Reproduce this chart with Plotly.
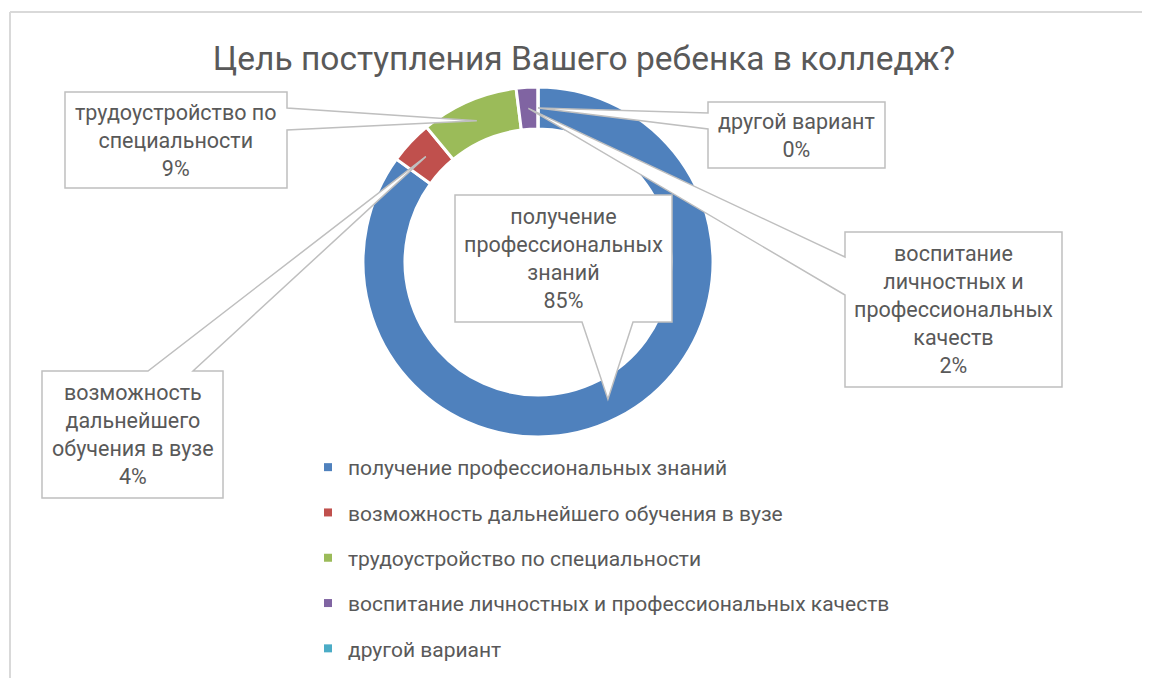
import math
import plotly.graph_objects as go

# ---- data ----
categories = [
    "получение профессиональных знаний",
    "возможность дальнейшего обучения в вузе",
    "трудоустройство по специальности",
    "воспитание личностных и профессиональных качеств",
    "другой вариант",
]
values = [85, 4, 9, 2, 0]
callout_text = [
    "получение<br>профессиональных<br>знаний",
    "возможность<br>дальнейшего<br>обучения в вузе",
    "трудоустройство по<br>специальности",
    "воспитание<br>личностных и<br>профессиональных<br>качеств",
    "другой вариант",
]
colors = ["#4F81BD", "#C0504D", "#9BBB59", "#8064A2", "#4BACC6"]
title = "Цель поступления Вашего ребенка в колледж?"

OFF = 8  # page body margin
W, H = 1150 - OFF, 678 - OFF
FONT = "Roboto, 'Noto Sans', sans-serif"
TXT = "#595959"
OUTLINE = "#BFBFBF"

def px(x):
    return (x - OFF) / W

def py(y):
    return 1 - (y - OFF) / H

# pie placement (screen pixels)
pie_x0, pie_x1, pie_y0, pie_y1 = 363, 713, 87, 437
hole = 0.76
cx, cy = (pie_x0 + pie_x1) / 2, (pie_y0 + pie_y1) / 2
R = (pie_x1 - pie_x0) / 2
r_tip = R * (1 + hole) / 2

fig = go.Figure()
fig.add_trace(go.Pie(
    labels=categories, values=values, sort=False, direction="clockwise",
    rotation=0, hole=hole, textinfo="none", hoverinfo="label+percent",
    marker=dict(colors=colors, line=dict(color="white", width=3)),
    domain=dict(x=[px(pie_x0), px(pie_x1)], y=[py(pie_y1), py(pie_y0)]),
    showlegend=False,
))

# legend via marker-only traces
for cat, col in zip(categories, colors):
    fig.add_trace(go.Scatter(
        x=[None], y=[None], mode="markers", name=cat, legendgroup=cat,
        marker=dict(symbol="square", size=8, color=col),
    ))

# tips computed from data
total = sum(values)
tips = []
cum = 0
for v in values:
    theta = 2 * math.pi * (cum + v / 2) / total
    tips.append((cx + r_tip * math.sin(theta), cy - r_tip * math.cos(theta)))
    cum += v

# callout boxes: (x0, x1, y0, y1, side, b1, b2)
boxes = [
    (455, 672, 195, 322, "bottom", 582, 633),
    (42, 223, 371, 498, "top", 148, 193),
    (65, 287, 92, 188, "right", 108, 130),
    (845, 1062, 232, 387, "left", 257, 295),
    (708, 885, 102, 168, "left", 113, 129),
]

def path_from(points):
    return "M " + " L ".join(f"{px(x):.5f},{py(y):.5f}" for x, y in points) + " Z"

shapes = []
draw_order = [3, 4, 2, 1, 0]
for i in draw_order:
    x0, x1, y0, y1, side, b1, b2 = boxes[i]
    t = tips[i]
    if side == "bottom":
        pts = [(x0, y0), (x1, y0), (x1, y1), (b2, y1), t, (b1, y1), (x0, y1)]
    elif side == "top":
        pts = [(x0, y0), (b1, y0), t, (b2, y0), (x1, y0), (x1, y1), (x0, y1)]
    elif side == "right":
        pts = [(x0, y0), (x1, y0), (x1, b1), t, (x1, b2), (x1, y1), (x0, y1)]
    else:
        pts = [(x0, y0), (x1, y0), (x1, y1), (x0, y1), (x0, b2), t, (x0, b1)]
    shapes.append(dict(type="path", xref="paper", yref="paper", path=path_from(pts),
                       fillcolor="white", line=dict(color=OUTLINE, width=1.5), layer="above"))

# chart border (top and left)
shapes.append(dict(type="line", xref="paper", yref="paper", x0=px(10), x1=1.0, y0=py(12), y1=py(12),
                   line=dict(color="#D9D9D9", width=2)))
shapes.append(dict(type="line", xref="paper", yref="paper", x0=px(10), x1=px(10), y0=py(12), y1=0,
                   line=dict(color="#D9D9D9", width=2)))

annotations = []
for i, (x0, x1, y0, y1, side, b1, b2) in enumerate(boxes):
    pct = round(100 * values[i] / total)
    annotations.append(dict(
        x=px((x0 + x1) / 2), y=py((y0 + y1) / 2), xref="paper", yref="paper",
        xanchor="center", yanchor="middle",
        text=f"{callout_text[i]}<br>{pct}%", showarrow=False,
        font=dict(family=FONT, size=21.5, color=TXT), align="center",
    ))

fig.update_layout(
    width=W, height=H, margin=dict(l=0, r=0, t=0, b=0),
    paper_bgcolor="white", plot_bgcolor="white",
    title=dict(text=title, x=px(584), y=py(58), xanchor="center", yanchor="middle",
               font=dict(family=FONT, size=33.5, color=TXT)),
    xaxis=dict(visible=False), yaxis=dict(visible=False),
    shapes=shapes, annotations=annotations,
    legend=dict(x=px(308), y=py(447), xanchor="left", yanchor="top",
                font=dict(family=FONT, size=21, color=TXT), tracegroupgap=15,
                bgcolor="rgba(0,0,0,0)"),
    showlegend=True,
)

fig.write_html("out.html", config={"displayModeBar": False})
